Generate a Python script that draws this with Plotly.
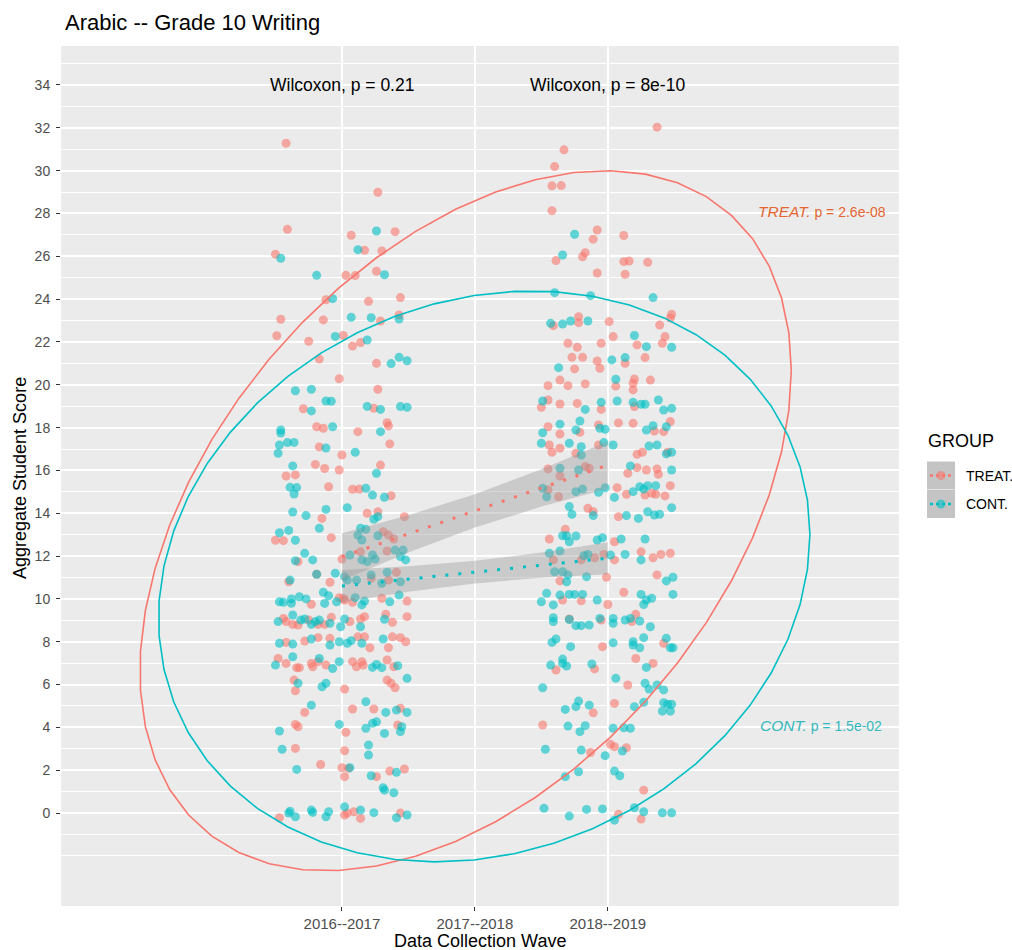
import numpy as np
import plotly.graph_objects as go

# ---------------- data ----------------
WAVE_LABELS = ["2016--2017", "2017--2018", "2018--2019"]
WAVE_POS = [1, 2, 3]
Y_TICKS = list(range(0, 35, 2))
Y_MINOR = [-2, -1] + list(range(1, 36, 2))

# jittered points (wave position + jitter, score)
TREAT_W1 = [(0.58,31.28),(1.27,28.99),(0.59,27.26),(1.07,26.98),(1.40,27.15),(0.50,26.10),(1.17,26.28),(1.30,26.25),(1.03,25.11),(1.10,25.10),
(1.26,25.30),(0.88,23.97),(1.20,23.90),(1.44,24.07),(0.54,23.06),(0.86,23.03),(1.29,22.98),(1.43,23.26),(0.51,22.29),(0.75,22.03),
(1.01,22.30),(1.08,21.81),(1.14,21.97),(0.83,21.20),(1.26,21.00),(0.98,20.28),(1.27,19.79),(0.71,18.88),(1.24,18.90),(0.81,18.04),
(0.86,17.97),(1.12,17.81),(1.34,18.23),(1.35,18.08),(0.83,17.10),(1.36,17.24),(1.00,16.72),(0.80,16.28),(0.87,16.09),(1.29,16.25),
(0.98,16.02),(0.58,15.74),(0.65,15.79),(0.90,15.24),(1.08,15.12),(1.13,15.13),(1.37,14.82),(0.85,13.76),(1.19,14.00),(1.27,14.07),
(1.47,13.84),(0.50,12.74),(0.56,12.72),(0.92,12.86),(1.31,13.14),(1.35,12.98),(1.39,12.80),(0.67,11.74),(1.00,11.86),(1.14,12.20),
(1.34,12.24),(0.81,11.15),(0.91,10.78),(0.60,10.80),(1.22,10.96),(1.35,10.88),(1.41,11.24),(0.77,9.75),(0.98,10.06),(1.02,9.95),
(1.01,10.02),(1.08,9.84),(1.30,10.03),(1.49,9.90),(0.56,9.09),(0.58,8.94),(0.63,8.81),(0.67,8.78),(0.75,9.01),(0.82,8.81),
(0.87,8.81),(0.92,9.14),(1.06,8.94),(1.14,9.06),(1.17,9.17),(1.33,9.28),(1.38,8.91),(1.49,9.17),(0.58,7.97),(0.72,8.03),
(0.82,8.19),(0.91,8.16),(1.12,8.23),(1.17,8.23),(1.21,7.72),(1.35,7.72),(1.38,8.23),(1.44,8.19),(1.48,8.00),(0.52,7.22),
(0.58,6.99),(0.66,6.79),(0.68,6.79),(0.77,6.99),(0.78,6.83),(0.82,7.07),(0.88,6.91),(1.08,7.07),(1.11,6.83),(1.15,7.07),
(1.16,6.91),(1.34,7.15),(1.39,6.83),(0.64,6.21),(0.65,5.71),(1.02,5.79),(1.34,6.21),(1.37,6.06),(1.40,5.85),(0.72,4.70),
(1.08,4.86),(1.24,4.86),(1.44,4.89),(0.65,4.14),(0.67,4.03),(1.03,3.77),(1.42,4.11),(0.65,3.02),(1.02,2.91),(0.84,2.27),
(1.00,2.12),(1.05,2.09),(1.02,1.70),(1.26,1.70),(1.36,1.96),(1.47,2.06),(0.53,-0.22),(1.02,-0.09),(1.04,0.00),(1.09,0.06),
(1.14,-0.25),(1.44,0.00)]

CONT_W1 = [(1.26,27.18),(0.54,25.91),(1.12,26.31),(0.81,25.11),(1.32,25.14),(0.93,24.02),(1.07,23.15),(1.22,23.13),(1.43,23.07),(0.95,22.26),
(1.19,22.09),(1.37,20.99),(1.43,21.28),(1.49,21.12),(0.65,19.72),(0.77,19.79),(0.77,18.78),(0.88,19.24),(0.92,19.23),(1.19,18.99),
(1.29,18.85),(1.44,18.98),(1.49,18.95),(0.54,17.89),(0.54,17.75),(0.93,18.04),(1.29,17.81),(0.52,16.80),(0.53,17.19),(0.59,17.30),
(0.64,17.31),(0.88,17.05),(1.10,16.85),(0.63,16.21),(1.26,15.87),(0.61,15.21),(0.66,15.20),(0.64,14.90),(1.18,15.17),(1.23,14.85),
(1.32,14.75),(0.63,14.06),(0.73,13.89),(0.88,14.18),(0.83,13.30),(1.04,14.26),(1.24,13.72),(1.27,13.84),(0.53,13.09),(0.60,13.20),
(0.65,12.74),(1.14,13.30),(1.18,13.25),(1.12,12.98),(1.15,12.75),(1.27,12.95),(1.46,12.28),(1.40,12.28),(0.72,12.13),(0.65,11.78),
(0.78,11.82),(1.06,12.05),(1.23,12.05),(1.15,11.82),(1.19,11.74),(1.25,11.86),(1.44,11.98),(1.48,11.82),(0.81,11.15),(0.95,11.20),
(0.61,10.88),(1.02,11.04),(1.04,10.88),(1.11,10.88),(1.22,11.12),(1.30,10.73),(1.34,11.24),(1.44,10.80),(0.86,10.31),(0.90,10.15),
(0.53,9.87),(0.56,9.84),(0.62,10.00),(0.62,9.80),(0.68,10.10),(0.73,10.00),(0.87,9.79),(0.96,9.87),(1.10,10.06),(1.15,9.72),
(1.17,9.90),(1.36,9.87),(1.43,10.18),(0.52,8.94),(0.63,9.25),(0.69,9.01),(0.72,9.06),(0.77,8.81),(0.80,8.94),(0.83,9.01),
(0.91,8.86),(0.99,8.70),(1.02,9.06),(1.14,8.70),(1.32,9.05),(0.53,7.93),(0.63,7.89),(0.77,8.13),(0.91,7.85),(0.98,8.00),
(1.04,7.93),(1.07,8.05),(1.15,7.93),(1.31,8.13),(0.50,6.91),(0.63,7.30),(0.83,7.22),(0.93,6.75),(0.98,7.07),(1.23,6.80),
(1.26,6.94),(1.30,6.79),(1.42,6.88),(1.49,6.29),(0.67,6.06),(0.85,5.90),(0.88,6.06),(0.77,5.04),(1.18,5.20),(1.33,4.70),
(1.41,4.81),(1.49,4.70),(0.53,3.83),(0.98,4.14),(1.18,3.96),(1.23,4.19),(1.26,4.26),(1.32,3.72),(1.44,3.80),(1.45,4.03),
(0.55,2.98),(1.20,3.18),(1.20,2.71),(0.66,2.04),(1.06,2.12),(1.22,1.74),(1.41,1.90),(1.31,1.18),(1.32,1.07),(1.39,0.95),
(0.60,0.00),(0.61,0.09),(0.65,-0.17),(0.77,0.14),(0.78,0.03),(0.88,-0.17),(0.90,0.06),(1.02,0.29),(1.14,0.14),(1.24,0.02),
(1.41,-0.22),(1.49,-0.09)]

TREAT_W3 = [(3.37,32.03),(2.67,30.97),(2.60,30.19),(2.58,29.29),(2.65,29.30),(2.58,28.13),(2.92,27.23),(2.89,26.80),(3.12,26.97),(2.61,25.80),
(2.81,25.98),(2.83,26.17),(3.12,25.75),(3.16,25.78),(3.30,25.72),(2.92,25.22),(3.13,25.16),(3.48,23.29),(3.47,23.12),(2.59,22.76),
(2.78,23.18),(2.78,22.90),(3.01,22.95),(3.39,22.79),(2.70,21.94),(2.77,21.75),(2.95,21.94),(3.04,22.25),(3.22,21.86),(3.41,21.94),
(3.43,22.25),(2.73,21.28),(2.81,21.28),(2.92,21.11),(2.94,20.77),(3.13,21.00),(3.28,21.27),(2.75,20.74),(2.64,20.22),(2.55,19.96),
(2.70,19.96),(2.83,20.04),(3.06,19.94),(3.19,20.07),(3.20,20.27),(3.19,19.76),(3.32,20.22),(2.50,18.95),(2.55,19.29),(2.64,19.10),
(2.77,19.13),(2.95,18.85),(3.20,18.98),(2.55,18.04),(2.64,17.70),(2.79,17.78),(2.93,18.12),(3.08,18.22),(3.19,18.20),(3.35,17.84),
(3.47,18.28),(3.42,17.81),(2.56,17.19),(2.58,16.85),(2.64,17.04),(2.76,16.80),(2.93,17.19),(3.22,16.75),(3.26,16.85),(3.45,16.85),
(2.55,16.07),(2.83,16.18),(2.86,16.10),(3.15,15.87),(3.22,16.13),(3.29,16.02),(3.37,16.07),(3.38,15.82),(2.64,15.74),(2.55,15.09),
(2.63,14.77),(3.07,15.19),(3.14,14.89),(3.28,14.85),(3.33,14.93),(3.36,14.89),(3.43,14.81),(3.47,15.29),(2.85,14.23),(2.89,14.07),
(3.08,13.84),(2.68,13.25),(2.56,12.80),(3.05,12.67),(2.59,11.82),(2.64,10.84),(2.80,11.82),(2.90,11.92),(2.97,12.08),(3.05,11.82),
(2.99,11.01),(3.25,12.20),(3.34,11.92),(3.40,12.08),(3.47,12.13),(3.37,11.12),(2.66,9.95),(2.80,9.91),(3.00,9.74),(3.12,10.31),
(2.71,9.06),(2.95,9.01),(3.18,8.94),(3.21,9.28),(2.96,7.77),(3.42,7.93),(2.61,6.68),(2.90,6.73),(3.21,7.22),(3.34,6.99),
(3.15,5.98),(2.89,4.68),(3.05,5.12),(2.51,4.11),(3.02,3.21),(3.05,3.10),(3.14,3.05),(2.87,2.83),(3.27,1.07),(3.08,-0.06),
(3.25,-0.28)]

CONT_W3 = [(2.75,27.03),(2.66,26.06),(2.60,24.30),(2.87,24.16),(3.34,24.07),(2.57,22.87),(2.66,22.84),(2.72,22.98),(2.85,22.98),(3.20,22.30),
(3.29,21.78),(3.48,21.75),(3.03,21.16),(3.13,21.27),(2.63,20.80),(3.06,20.26),(2.51,19.24),(2.83,18.85),(2.95,19.18),(3.07,19.24),
(3.19,19.18),(3.25,19.09),(3.28,19.09),(3.38,19.29),(3.42,18.82),(3.48,18.90),(2.64,18.16),(2.51,17.76),(2.79,18.31),(2.76,17.89),
(2.94,17.97),(2.98,17.92),(3.29,17.89),(3.34,18.09),(3.44,18.04),(2.50,17.27),(2.71,17.27),(2.80,17.11),(2.80,16.72),(2.97,17.30),
(3.04,17.19),(3.31,17.14),(3.37,17.19),(3.44,16.77),(3.48,16.85),(2.64,16.10),(2.78,16.02),(3.17,16.21),(3.48,16.02),(2.51,15.17),
(2.54,14.77),(2.76,15.01),(2.81,15.13),(2.93,14.98),(2.98,15.19),(3.05,14.74),(3.19,15.01),(3.24,15.24),(3.27,15.13),(3.30,15.29),
(3.36,15.29),(2.71,14.31),(2.73,13.95),(2.89,13.89),(3.14,13.89),(3.23,13.76),(3.30,14.07),(3.35,13.92),(3.39,13.95),(3.48,14.26),
(2.66,12.95),(2.69,12.95),(2.71,12.67),(2.76,12.94),(2.92,12.75),(2.96,12.86),(3.10,12.80),(3.28,12.80),(2.56,12.13),(2.64,12.24),
(2.60,11.27),(2.66,11.27),(2.70,11.12),(2.69,10.80),(2.82,12.02),(2.85,12.08),(3.02,12.05),(3.13,12.08),(2.84,11.04),(3.25,11.82),
(3.44,10.84),(3.49,11.01),(2.50,9.87),(2.54,10.26),(2.59,9.72),(2.64,10.18),(2.71,10.21),(2.75,10.21),(2.81,10.21),(2.92,9.95),
(3.25,10.21),(3.27,9.74),(3.29,9.95),(3.33,10.03),(3.49,10.21),(2.59,9.12),(2.59,8.94),(2.76,8.75),(2.80,8.75),(2.86,8.78),
(2.94,9.09),(3.04,9.09),(3.04,8.86),(3.13,9.01),(3.17,9.09),(3.24,8.97),(3.32,8.70),(2.71,9.04),(2.58,7.97),(2.61,8.13),
(2.72,7.77),(3.04,7.95),(3.19,8.00),(3.19,7.85),(3.24,7.72),(3.27,8.19),(3.44,8.16),(3.47,7.72),(3.49,7.72),(2.57,6.91),
(2.66,7.19),(2.66,6.99),(2.69,6.87),(2.88,6.96),(3.29,6.80),(2.51,5.85),(3.06,6.29),(3.28,6.06),(3.31,5.79),(3.37,5.98),
(3.42,5.75),(2.68,4.84),(2.76,4.97),(2.78,5.23),(2.86,5.04),(3.20,4.97),(3.27,5.17),(3.42,5.15),(3.45,5.08),(3.48,5.08),
(3.41,4.76),(3.47,4.76),(2.70,4.06),(2.79,3.80),(2.83,4.08),(3.04,3.96),(3.12,3.98),(3.17,3.96),(2.53,2.98),(2.80,2.94),
(2.98,2.68),(3.11,2.90),(2.68,1.70),(2.78,1.93),(3.05,1.96),(3.09,1.74),(2.52,0.22),(2.71,-0.14),(2.84,0.17),(2.96,0.19),
(3.05,-0.33),(3.20,0.25),(3.27,0.06),(3.41,0.01),(3.48,0.01)]

# linear-fit lines with confidence band
SMOOTH_X = [1.0, 1.5, 2.0, 2.5, 3.0]
TREAT_FIT = [11.97, 13.04, 14.11, 15.18, 16.25]
TREAT_LO = [10.87, 12.17, 13.33, 14.31, 15.15]
TREAT_HI = [13.07, 13.91, 14.89, 16.05, 17.35]
CONT_FIT = [10.60, 10.93, 11.25, 11.58, 11.90]
CONT_LO = [9.85, 10.34, 10.72, 10.99, 11.15]
CONT_HI = [11.35, 11.52, 11.78, 12.17, 12.65]

# data ellipses: centre x, centre y, half-extent x, half-extent y, cross term
TREAT_ELLIPSE = (1.93, 13.65, 2.45, 16.35, 17.2)
CONT_ELLIPSE = (2.07, 11.05, 2.45, 13.33, 4.8)

WILCOX_X = [1, 3]
WILCOX_Y = [34, 34]
WILCOX_TEXT = ["Wilcoxon, p = 0.21", "Wilcoxon, p = 8e-10"]

GROUPS = ["TREAT.", "CONT."]
GROUP_P = ["p = 2.6e-08", "p = 1.5e-02"]
GROUP_LABEL_POS = [(4.61, 28.07), (4.60, 4.11)]

# ---------------- style ----------------
RED = "#F8766D"
TEAL = "#00BFC4"
RED_TXT = "#E4652F"
TEAL_TXT = "#33B8BB"
FONT = "Liberation Sans"

W, H = 1012, 950
ML, MR, MT, MB = 61, 113, 46, 44
PW, PH = W - ML - MR, H - MT - MB


def px2paper_x(px):
    return (px - ML) / PW


def px2paper_y(py):
    return (H - MB - py) / PH


def ellipse(params, n=52):
    cx, cy, wx, wy, cxy = params
    M = np.array([[wx ** 2, cxy], [cxy, wy ** 2]])
    L = np.linalg.cholesky(M)
    t = np.linspace(0, 2 * np.pi, n)
    pts = L @ np.vstack([np.cos(t), np.sin(t)])
    return cx + pts[0], cy + pts[1]


fig = go.Figure()

# points
for pts, col in [(TREAT_W1 + TREAT_W3, RED), (CONT_W1 + CONT_W3, TEAL)]:
    xs = [p[0] for p in pts]
    ys = [p[1] for p in pts]
    fig.add_trace(go.Scatter(x=xs, y=ys, mode="markers",
                             marker=dict(color=col, size=9, opacity=0.6, line=dict(width=0)),
                             showlegend=False, hoverinfo="skip"))

# confidence bands + dotted fit lines
for lo, hi in [(TREAT_LO, TREAT_HI), (CONT_LO, CONT_HI)]:
    fig.add_trace(go.Scatter(x=SMOOTH_X + SMOOTH_X[::-1], y=hi + lo[::-1], mode="lines",
                             fill="toself", fillcolor="rgba(153,153,153,0.4)",
                             line=dict(width=0), showlegend=False, hoverinfo="skip"))
for fit, col in [(TREAT_FIT, RED), (CONT_FIT, TEAL)]:
    fig.add_trace(go.Scatter(x=SMOOTH_X, y=fit, mode="lines",
                             line=dict(color=col, width=3, dash="3px,10px"),
                             showlegend=False, hoverinfo="skip"))

# ellipses
for params, col in [(TREAT_ELLIPSE, RED), (CONT_ELLIPSE, TEAL)]:
    ex, ey = ellipse(params)
    fig.add_trace(go.Scatter(x=ex, y=ey, mode="lines", line=dict(color=col, width=1.6),
                             showlegend=False, hoverinfo="skip"))

annotations = []
for x, y, t in zip(WILCOX_X, WILCOX_Y, WILCOX_TEXT):
    annotations.append(dict(x=x, y=y, xref="x", yref="y", text=t, showarrow=False,
                            font=dict(family=FONT, size=17.5, color="black"),
                            xanchor="center", yanchor="middle"))
for (x, y), g, p, col in zip(GROUP_LABEL_POS, GROUPS, GROUP_P, [RED_TXT, TEAL_TXT]):
    annotations.append(dict(x=x, y=y, xref="x", yref="y",
                            text=f"<i><span style='font-size:15.5px'>{g}</span></i> {p}", showarrow=False,
                            font=dict(family=FONT, size=14, color=col),
                            xanchor="center", yanchor="middle"))

# title and axis titles
annotations.append(dict(x=px2paper_x(63), y=px2paper_y(22), xref="paper", yref="paper",
                        text="Arabic -- Grade 10 Writing", showarrow=False,
                        font=dict(family=FONT, size=22, color="black"),
                        xanchor="left", yanchor="middle"))
annotations.append(dict(x=px2paper_x(480), y=px2paper_y(941), xref="paper", yref="paper",
                        text="Data Collection Wave", showarrow=False,
                        font=dict(family=FONT, size=18, color="black"),
                        xanchor="center", yanchor="middle"))
annotations.append(dict(x=px2paper_x(20), y=px2paper_y(478), xref="paper", yref="paper",
                        text="Aggregate Student Score", showarrow=False, textangle=-90,
                        font=dict(family=FONT, size=18, color="black"),
                        xanchor="center", yanchor="middle"))

# manual legend
shapes = []
annotations.append(dict(x=px2paper_x(926), y=px2paper_y(441), xref="paper", yref="paper",
                        text="GROUP", showarrow=False,
                        font=dict(family=FONT, size=18, color="black"),
                        xanchor="left", yanchor="middle"))
key_cy = [475.5, 504]
for g, col, cy in zip(GROUPS, [RED, TEAL], key_cy):
    ax, ay = px2paper_x(941), px2paper_y(cy)
    shapes.append(dict(type="rect", xref="paper", yref="paper", xsizemode="pixel", ysizemode="pixel",
                       xanchor=ax, yanchor=ay, x0=-14, x1=14, y0=-14, y1=14,
                       fillcolor="#C4C4C4", line=dict(width=0), layer="above"))
    shapes.append(dict(type="line", xref="paper", yref="paper", xsizemode="pixel", ysizemode="pixel",
                       xanchor=ax, yanchor=ay, x0=-11, x1=11, y0=0, y1=0,
                       line=dict(color=col, width=2.5, dash="dot"), layer="above"))
    shapes.append(dict(type="circle", xref="paper", yref="paper", xsizemode="pixel", ysizemode="pixel",
                       xanchor=ax, yanchor=ay, x0=-4.5, x1=4.5, y0=-4.5, y1=4.5,
                       fillcolor=col, opacity=0.6, line=dict(width=0), layer="above"))
    annotations.append(dict(x=px2paper_x(964), y=px2paper_y(cy), xref="paper", yref="paper",
                            text=g, showarrow=False,
                            font=dict(family=FONT, size=14, color="black"),
                            xanchor="left", yanchor="middle"))

fig.update_layout(
    width=W, height=H,
    margin=dict(l=ML, r=MR, t=MT, b=MB, pad=0),
    paper_bgcolor="white", plot_bgcolor="#EBEBEB",
    showlegend=False,
    font=dict(family=FONT, color="#4D4D4D"),
    annotations=annotations, shapes=shapes,
    xaxis=dict(range=[-1.113, 5.19], tickmode="array", tickvals=WAVE_POS, ticktext=WAVE_LABELS,
               showgrid=True, gridcolor="white", gridwidth=1.6, zeroline=False,
               ticks="outside", ticklen=4, tickwidth=1.2, tickcolor="#333333",
               tickfont=dict(family=FONT, size=15, color="#4D4D4D"), showline=False),
    yaxis=dict(range=[-4.34, 35.82], tickmode="array", tickvals=Y_TICKS,
               showgrid=True, gridcolor="white", gridwidth=1.6, zeroline=False,
               ticks="outside", ticklen=4, tickwidth=1.2, tickcolor="#333333",
               ticklabelstandoff=3,
               tickfont=dict(family=FONT, size=14, color="#4D4D4D"), showline=False,
               minor=dict(tickmode="array", tickvals=Y_MINOR, showgrid=True,
                          gridcolor="white", gridwidth=0.8, ticks="")),
)

fig.write_html("out.html", config={"displayModeBar": False},
               post_script="document.body.style.margin='0';document.body.style.overflow='hidden';")
